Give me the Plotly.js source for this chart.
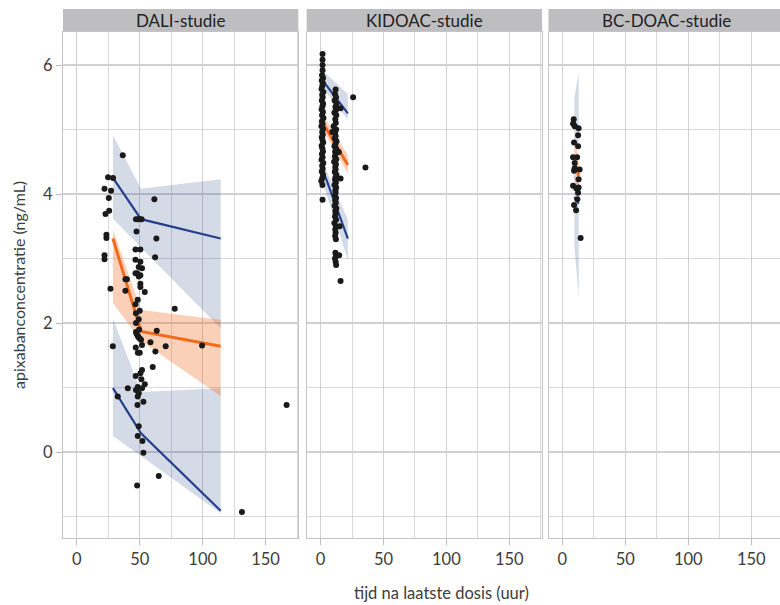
<!DOCTYPE html>
<html><head><meta charset="utf-8">
<script src="https://cdn.plot.ly/plotly-3.0.1.min.js"></script>
<style>html,body{margin:0;padding:0;overflow:hidden;background:#fff}#chart{width:786px;height:605px}</style>
</head><body><div id="chart"></div>
<script>
// ---- facets ----
const studies = ["DALI-studie", "KIDOAC-studie", "BC-DOAC-studie"];
const xTicks = [0, 50, 100, 150];
const yTicks = [0, 2, 4, 6];

// ---- DALI points ----
const daliX = [36.5,24.8,28.8,22,27.2,25.4,61.6,25.7,22.8,47,48.5,50,51.5,47.4,63.2,23.5,23.5,46.6,50.5,62.2,22,22,46.6,50.5,49.2,51.8,47.9,49.2,
  46.6,50.5,38.6,39.8,26.7,50.5,50.5,38.6,54,48.4,46.6,77.8,50,47,49.2,47,
  47,47.5,48.5,49,50,51,49.5,
  63.5,58.5,51.8,28.6,70.6,99.5,46.8,62.4,48.5,50,60.3,51.8,50.5,46.8,51.3,54,51.8,40.5,
  48.4,47,49.2,48.4,32.5,48.2,52.9,166.7,49.2,48.4,52.1,52.9,65.1,47.9,131.2];
const daliY = [4.60,4.26,4.25,4.08,4.05,3.94,3.92,3.74,3.69,3.61,3.61,3.61,3.61,3.42,3.31,3.37,3.32,3.14,3.14,3.02,3.05,2.99,2.98,2.95,2.87,2.85,2.77,2.72,
  2.77,2.74,2.68,2.68,2.53,2.61,2.56,2.50,2.48,2.36,2.29,2.22,2.19,2.15,2.06,2.00,
  1.86,1.83,1.80,1.78,1.76,1.74,1.90,
  1.88,1.70,1.66,1.64,1.64,1.65,1.62,1.56,1.54,1.54,1.32,1.27,1.22,1.18,1.13,1.05,0.99,0.99,
  1.01,0.96,0.91,0.86,0.86,0.73,0.78,0.73,0.40,0.25,0.17,-0.01,-0.37,-0.52,-0.93];

// ---- KIDOAC points ----
const kidCol1X = [1.6,1.6,1.6,1.6,1.2,2.0,1.0,1.8,1.4,0.8,2.2,1.3,1.7,1.0,2.0,1.5,0.9,1.9,1.2,2.3,1.1,1.6,0.7,2.0,1.3,1.8,1.0,1.5,2.1,0.9,1.4,1.9,1.1,1.6,0.8,2.2,1.3,1.7,1.0,2.0,1.4,0.6,1.5,1.6];
const kidCol1Y = [6.17,6.08,6.00,5.92,5.84,5.80,5.76,5.72,5.68,5.63,5.58,5.54,5.50,5.45,5.40,5.36,5.31,5.27,5.22,5.18,5.13,5.09,5.05,5.01,4.96,4.92,4.88,4.84,4.80,4.75,4.71,4.66,4.62,4.57,4.53,4.48,4.44,4.39,4.35,4.30,4.25,4.20,4.14,3.91];
const kidCol2X = [12.0,11.5,12.3,11.2,12.6,11.8,12.2,11.0,12.5,11.7,12.1,10.4,12.4,11.6,12.0,11.3,12.7,11.9,11.1,12.3,11.6,12.0,11.4,12.5,10.8,12.2,11.7,12.0,11.3,12.6,11.9,11.5,12.2,11.1,12.4,11.8,12.0,11.4,12.3,11.7,12.1,11.2,12.5,11.8,12.0,11.5,12.3,11.0,12.2,11.7,12.0,11.6,12.2,11.8,12.3,11.5,12.0,12.4];
const kidCol2Y = [5.62,5.55,5.50,5.45,5.40,5.35,5.30,5.26,5.22,5.16,5.10,5.05,5.00,4.95,4.90,4.86,4.82,4.78,4.74,4.70,4.66,4.62,4.58,4.54,4.50,4.46,4.42,4.38,4.34,4.30,4.26,4.22,4.18,4.14,4.10,4.06,4.02,3.98,3.94,3.90,3.86,3.82,3.78,3.74,3.70,3.65,3.60,3.55,3.50,3.45,3.40,3.35,3.30,3.09,3.04,3.00,2.95,2.90];
const kidOtherX = [15.9,25.9,15.9,35.7,15.9,14.8,14.5,15.2,9.3];
const kidOtherY = [5.33,5.50,4.24,4.41,2.65,3.05,4.65,3.50,4.96];

// ---- BC-DOAC points ----
const bcX = [9,8.5,9.8,12.9,12.5,9.3,12.5,8.5,11.7,9.8,9.8,13.7,9.3,12.9,8.5,11,12.9,12.5,11.9,9.3,10.9,14.5];
const bcY = [5.16,5.09,5.05,5.02,4.91,4.80,4.74,4.57,4.57,4.48,4.40,4.38,4.36,4.23,4.13,4.09,4.10,4.02,3.92,3.83,3.75,3.32];

// ---- quantile fits (upper 'hi', median 'med', lower 'lo') with bands ----
const daliFitX = [28.7, 51, 114.3];
const daliHi = [4.25, 3.61, 3.31], daliHiUp = [4.91, 4.08, 4.23], daliHiDn = [3.62, 3.17, 1.92];
const daliMed = [3.31, 1.87, 1.64], daliMedUp = [3.45, 2.20, 2.05], daliMedDn = [2.31, 1.72, 0.87];
const daliLo = [0.99, 0.29, -0.91], daliLoUp = [2.07, 0.93, 0.99], daliLoDn = [0.25, -0.06, -0.95];

const kidFitX = [1.3, 21.7];
const kidHi = [5.77, 5.25], kidHiUp = [5.92, 5.55], kidHiDn = [5.65, 5.15];
const kidMed = [5.12, 4.45], kidMedUp = [5.25, 4.60], kidMedDn = [5.02, 4.32];
const kidLo = [4.40, 3.31], kidLoUp = [4.52, 3.60], kidLoDn = [4.20, 2.98];

const bcFitX = [9.5, 13];
const bcHi = [5.12, 5.00], bcHiUp = [5.50, 5.87], bcHiDn = [4.85, 4.70];
const bcMed = [4.52, 4.28], bcMedUp = [4.80, 4.60], bcMedDn = [4.25, 3.98];
const bcLo = [3.95, 3.85], bcLoUp = [4.30, 4.20], bcLoDn = [3.20, 2.41];

const BLUE = '#25408c', ORANGE = '#f26a1c';
const BLUE_FILL = 'rgba(40,70,130,0.2)', ORANGE_FILL = 'rgba(242,100,20,0.3)';

function ribbon(xs, up, dn, fill, xa, ya) {
  return {type:'scatter', mode:'lines', x: xs.concat(xs.slice().reverse()), y: up.concat(dn.slice().reverse()),
    fill:'toself', fillcolor: fill, line:{width:0, color:'rgba(0,0,0,0)'}, xaxis:xa, yaxis:ya, hoverinfo:'skip', showlegend:false};
}
function line(xs, ys, color, w, xa, ya) {
  return {type:'scatter', mode:'lines', x: xs, y: ys, line:{color: color, width: w}, xaxis:xa, yaxis:ya, showlegend:false};
}
function pts(xs, ys, xa, ya) {
  return {type:'scatter', mode:'markers', x: xs, y: ys, marker:{color:'#1a1a1a', size:6}, xaxis:xa, yaxis:ya, showlegend:false};
}

const panels = [
  {xa:'x', ya:'y', fx: daliFitX, hi:[daliHi,daliHiUp,daliHiDn], med:[daliMed,daliMedUp,daliMedDn], lo:[daliLo,daliLoUp,daliLoDn], px: daliX, py: daliY},
  {xa:'x2', ya:'y2', fx: kidFitX, hi:[kidHi,kidHiUp,kidHiDn], med:[kidMed,kidMedUp,kidMedDn], lo:[kidLo,kidLoUp,kidLoDn],
    px: kidCol1X.concat(kidCol2X, kidOtherX), py: kidCol1Y.concat(kidCol2Y, kidOtherY)},
  {xa:'x3', ya:'y3', fx: bcFitX, hi:[bcHi,bcHiUp,bcHiDn], med:[bcMed,bcMedUp,bcMedDn], lo:[bcLo,bcLoUp,bcLoDn], px: bcX, py: bcY}
];

const data = [];
panels.forEach(p => {
  data.push(ribbon(p.fx, p.hi[1], p.hi[2], BLUE_FILL, p.xa, p.ya));
  data.push(ribbon(p.fx, p.lo[1], p.lo[2], BLUE_FILL, p.xa, p.ya));
  data.push(ribbon(p.fx, p.med[1], p.med[2], ORANGE_FILL, p.xa, p.ya));
});
panels.forEach(p => {
  data.push(line(p.fx, p.hi[0], BLUE, 2.2, p.xa, p.ya));
  data.push(line(p.fx, p.lo[0], BLUE, 2.2, p.xa, p.ya));
  data.push(line(p.fx, p.med[0], ORANGE, 3, p.xa, p.ya));
});
panels.forEach(p => data.push(pts(p.px, p.py, p.xa, p.ya)));

const FONT = 'Lato, "Open Sans", sans-serif';
const GRID = '#d0d0d4', BORDER = '#c4c4c8';
const L = 63, W = 786, R = 2, plotW = W - L - R;
const doms = [[0, 235.3/plotW], [(306.7-L)/plotW, (542-L)/plotW], [(548.5-L)/plotW, 1]];

function xax(i) {
  return {domain: doms[i], range:[-11, 176], tickmode:'array', tickvals: xTicks, ticktext: xTicks.map(String),
    ticks:'outside', ticklen:6, tickcolor:'#bdbdbd', tickwidth:1,
    showgrid:true, gridcolor:GRID, gridwidth:1.1, zeroline:false,
    minor:{tickmode:'array', tickvals:[25,75,125,175], showgrid:true, gridcolor:GRID, gridwidth:0.8, ticks:''},
    showline:true, mirror:true, linecolor:BORDER, linewidth:1,
    tickfont:{family:FONT, size:16.5, color:'#3c3c3c'}, anchor: i===0?'y':('y'+(i+1)), fixedrange:true};
}
function yax(i) {
  return {domain:[0,1], range:[-1.333, 6.512], tickmode:'array', tickvals: yTicks, ticktext: yTicks.map(String),
    ticks: i===0 ? 'outside' : '', ticklen:6, tickcolor:'#bdbdbd', showticklabels: i===0,
    showgrid:true, gridcolor:GRID, gridwidth:1.1, zeroline:false,
    minor:{tickmode:'array', tickvals:[-1,1,3,5], showgrid:true, gridcolor:GRID, gridwidth:0.8, ticks:''},
    showline:true, mirror:true, linecolor:BORDER, linewidth:1,
    tickfont:{family:FONT, size:16.5, color:'#3c3c3c'}, anchor: i===0?'x':('x'+(i+1)), fixedrange:true};
}

const plotH = 605 - 32 - 67;
const stripTop = 1 + 23/plotH;
const shapes = doms.map(d => ({type:'rect', xref:'paper', yref:'paper', x0:d[0], x1:d[1], y0:1, y1:stripTop,
  fillcolor:'#bebec0', line:{width:0}, layer:'below'}));
const annotations = doms.map((d,i) => ({xref:'paper', yref:'paper', x:(d[0]+d[1])/2, y:(1+stripTop)/2,
  text: studies[i], showarrow:false, xanchor:'center', yanchor:'middle', font:{family:FONT, size:17, color:'#222'}}));
annotations.push({xref:'paper', yref:'paper', x:(441-L)/plotW, y:(538-593)/plotH, text:'tijd na laatste dosis (uur)',
  showarrow:false, xanchor:'center', yanchor:'middle', font:{family:FONT, size:16.5, color:'#3c3c3c'}});
annotations.push({xref:'paper', yref:'paper', x:(18-L)/plotW, y:0.5, text:'apixabanconcentratie (ng/mL)', textangle:-90,
  showarrow:false, xanchor:'center', yanchor:'middle', font:{family:FONT, size:16, color:'#3c3c3c'}});

const layout = {width: W, height: 605, margin:{l:L, r:R, t:32, b:67}, paper_bgcolor:'#fff', plot_bgcolor:'#fff',
  showlegend:false, shapes: shapes, annotations: annotations,
  xaxis: xax(0), xaxis2: xax(1), xaxis3: xax(2), yaxis: yax(0), yaxis2: yax(1), yaxis3: yax(2)};

Plotly.newPlot('chart', data, layout, {displayModeBar:false, staticPlot:true});
</script></body></html>
